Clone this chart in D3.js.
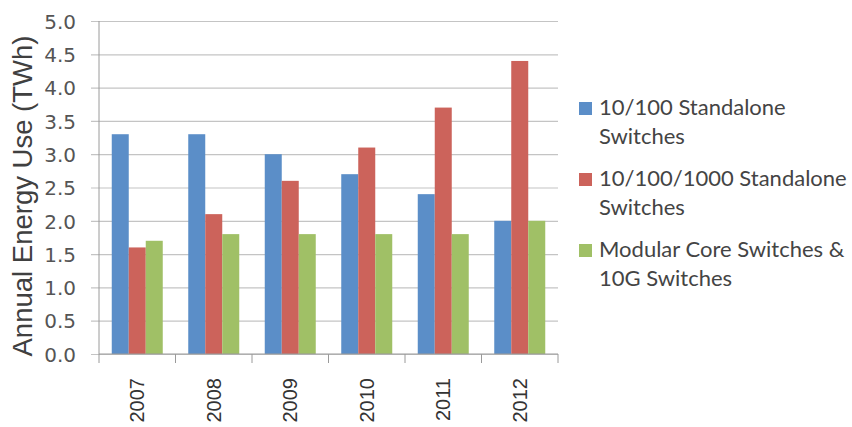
<!DOCTYPE html>
<html>
<head>
<meta charset="utf-8">
<script src="https://cdn.jsdelivr.net/npm/d3@7"></script>
<style>
  html, body { margin: 0; padding: 0; background: #fff; }
  svg { display: block; }
</style>
</head>
<body>
<div id="chart"></div>
<script>
// chart data
const years = ['2007', '2008', '2009', '2010', '2011', '2012'];
const seriesNames = [
    ['10/100 Standalone', 'Switches'],
    ['10/100/1000 Standalone', 'Switches'],
    ['Modular Core Switches &', '10G Switches']
];
const standalone100 = [3.3, 3.3, 3.0, 2.7, 2.4, 2.0];
const standalone1000 = [1.6, 2.1, 2.6, 3.1, 3.7, 4.4];
const modularCore = [1.7, 1.8, 1.8, 1.8, 1.8, 2.0];
const yTicks = [0, 0.5, 1, 1.5, 2, 2.5, 3, 3.5, 4, 4.5, 5];
const colors = ['#5b8ec8', '#cc635b', '#a0c066'];

const allSeries = [standalone100, standalone1000, modularCore];

const width = 852, height = 427;
const plot = { left: 99, right: 558, top: 21, bottom: 354 };

const svg = d3.select('#chart').append('svg')
    .attr('width', width)
    .attr('height', height);

const x0 = d3.scaleBand()
    .domain(years)
    .range([plot.left, plot.right])
    .paddingInner(1 / 3)
    .paddingOuter(1 / 6);

const x1 = d3.scaleBand()
    .domain(d3.range(allSeries.length))
    .range([0, x0.bandwidth()]);

const y = d3.scaleLinear()
    .domain([0, 5])
    .range([plot.bottom, plot.top]);

// gridlines + y tick labels
const yAxis = d3.axisLeft(y)
    .tickValues(yTicks)
    .tickSize(-(plot.right - plot.left) - 8)
    .tickPadding(15)
    .tickFormat(d3.format('.1f'));

const yg = svg.append('g')
    .attr('transform', `translate(${plot.right},0)`)
    .call(yAxis);
yg.select('.domain').remove();
yg.selectAll('.tick line')
    .attr('x1', 0)
    .attr('x2', -(plot.right - plot.left) - 8)
    .attr('stroke', '#c4c4c4')
    .attr('stroke-width', 1.2);
yg.selectAll('.tick text')
    .attr('x', -(plot.right - plot.left) - 23)
    .attr('dy', '0.36em')
    .style('font-family', 'DejaVu Sans')
    .style('font-size', '20px')
    .style('fill', '#555');

// y axis line
svg.append('line')
    .attr('x1', plot.left).attr('x2', plot.left)
    .attr('y1', plot.top).attr('y2', plot.bottom)
    .attr('stroke', '#9a9a9a');

// bars
const groups = svg.append('g')
    .selectAll('g')
    .data(years)
    .join('g')
    .attr('transform', d => `translate(${x0(d)},0)`);

groups.selectAll('rect')
    .data((d, i) => allSeries.map((s, k) => ({ k: k, v: s[i] })))
    .join('rect')
    .attr('x', d => x1(d.k))
    .attr('width', x1.bandwidth())
    .attr('y', d => y(d.v))
    .attr('height', d => y(0) - y(d.v))
    .attr('fill', d => colors[d.k]);

// x axis line + category boundary ticks
svg.append('line')
    .attr('x1', plot.left).attr('x2', plot.right)
    .attr('y1', plot.bottom).attr('y2', plot.bottom)
    .attr('stroke', '#9a9a9a');

const step = x0.step();
svg.append('g')
    .selectAll('line')
    .data(d3.range(years.length + 1))
    .join('line')
    .attr('x1', i => plot.left + i * step)
    .attr('x2', i => plot.left + i * step)
    .attr('y1', plot.bottom)
    .attr('y2', plot.bottom + 9)
    .attr('stroke', '#9a9a9a');

// rotated year labels
svg.append('g')
    .selectAll('text')
    .data(years)
    .join('text')
    .attr('transform', d => `translate(${x0(d) + x0.bandwidth() / 2},378) rotate(-90)`)
    .attr('text-anchor', 'end')
    .attr('dy', '0.36em')
    .style('font-family', 'Liberation Sans')
    .style('font-size', '20px')
    .style('fill', '#333')
    .text(d => d);

// y axis title
svg.append('text')
    .attr('transform', 'translate(32,196) rotate(-90)')
    .attr('text-anchor', 'middle')
    .style('font-family', 'Liberation Sans')
    .style('font-size', '27.5px')
    .style('fill', '#404040')
    .text('Annual Energy Use (TWh)');

// legend
const legend = svg.append('g')
    .selectAll('g')
    .data(seriesNames)
    .join('g')
    .attr('transform', (d, i) => `translate(579,${115 + i * 71})`);

legend.append('rect')
    .attr('x', 0)
    .attr('y', -13)
    .attr('width', 13)
    .attr('height', 13)
    .attr('fill', (d, i) => colors[i]);

legend.append('text')
    .style('font-family', 'Lato')
    .style('font-size', '22px')
    .style('fill', '#444')
    .selectAll('tspan')
    .data(d => d)
    .join('tspan')
    .attr('x', 20)
    .attr('y', (d, j) => j * 29)
    .text(d => d);
</script>
</body>
</html>
